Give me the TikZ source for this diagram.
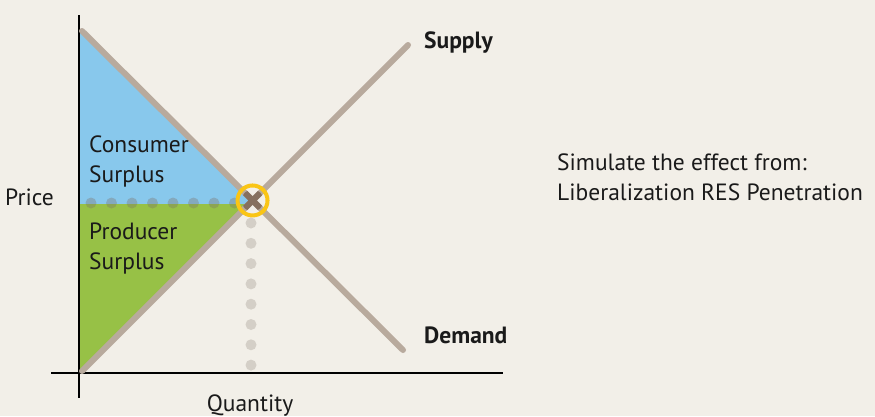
\documentclass[tikz,border=0pt]{standalone}
\usepackage{fontspec}
\setmainfont{PT Sans}
\usetikzlibrary{calc}
\definecolor{bgbeige}{HTML}{F2EFE8}
\definecolor{linebrown}{HTML}{B8AA9D}
\definecolor{dotgray}{HTML}{7D7068}
\definecolor{darkbrown}{HTML}{86705F}
\definecolor{csblue}{HTML}{88C8EC}
\definecolor{psgreen}{HTML}{97C146}
\definecolor{ringyellow}{HTML}{FAC515}
\definecolor{textblack}{HTML}{1A1A1A}

\begin{document}
\begin{tikzpicture}[x=1pt,y=-1pt,
  curve/.style={line width=6pt,draw=linebrown,line cap=round},
  axis/.style={line width=1.3pt,draw=black},
  lbl/.style={inner sep=0pt,anchor=base west,font=\fontsize{23.5}{30}\selectfont,text=textblack},
  dot/.style={fill=dotgray,fill opacity=0.25}]
\useasboundingbox[fill=bgbeige] (0,0) rectangle (875,416);
\coordinate (ytop) at (79,15);
\coordinate (ybot) at (79,398);
\coordinate (xleft) at (51,373);
\coordinate (xright) at (503,373);
\coordinate (d1) at (82,31);
\coordinate (d2) at (403,350);
\coordinate (s1) at (82,371);
\coordinate (s2) at (408,45);
\coordinate (eq) at (intersection of d1--d2 and s1--s2);
           \fill[csblue] (79,29) -- (79,204) -- (256,204) -- cycle;
           \fill[psgreen] (79,204) -- (250,204) -- (79,373) -- cycle;
           \foreach \i in {0,...,7} \fill[dot,fill opacity=0.35] (91+20.5*\i,203) circle (5.5pt);
           \foreach \i in {0,...,7} \fill[dot] (251,223+20.3*\i) circle (5.5pt);
           \draw[axis] (ytop) -- (ybot);
           \draw[axis] (xleft) -- (xright);
           \draw[curve] (d1) -- (d2);
           \draw[curve] (s1) -- (s2);
           \begin{scope}
              \clip (eq) circle (11pt);
              \draw[curve,draw=darkbrown] (d1) -- (d2) (s1) -- (s2);
           \end{scope}
           \draw[ringyellow,line width=4pt] (eq) circle (15pt);
\node[lbl] (price) at (5,205) {Price};
\node[lbl,anchor=base] (quantity) at (250,411) {Quantity};
\node[lbl] (consumer) at (89,152) {Consumer};
\node[lbl] (consumer2) at (89,182) {Surplus};
\node[lbl] (producer) at (89,239) {Producer};
\node[lbl] (producer2) at (89,269) {Surplus};
\node[lbl,font=\fontsize{23.5}{30}\selectfont\bfseries] (supply) at (424,48) {Supply};
\node[lbl,font=\fontsize{23.5}{30}\selectfont\bfseries] (demand) at (424,343) {Demand};
\node[lbl] (sim) at (557,170) {Simulate the effect from:};
\node[lbl] (sim2) at (557,200) {Liberalization RES Penetration};
\end{tikzpicture}
\end{document}
